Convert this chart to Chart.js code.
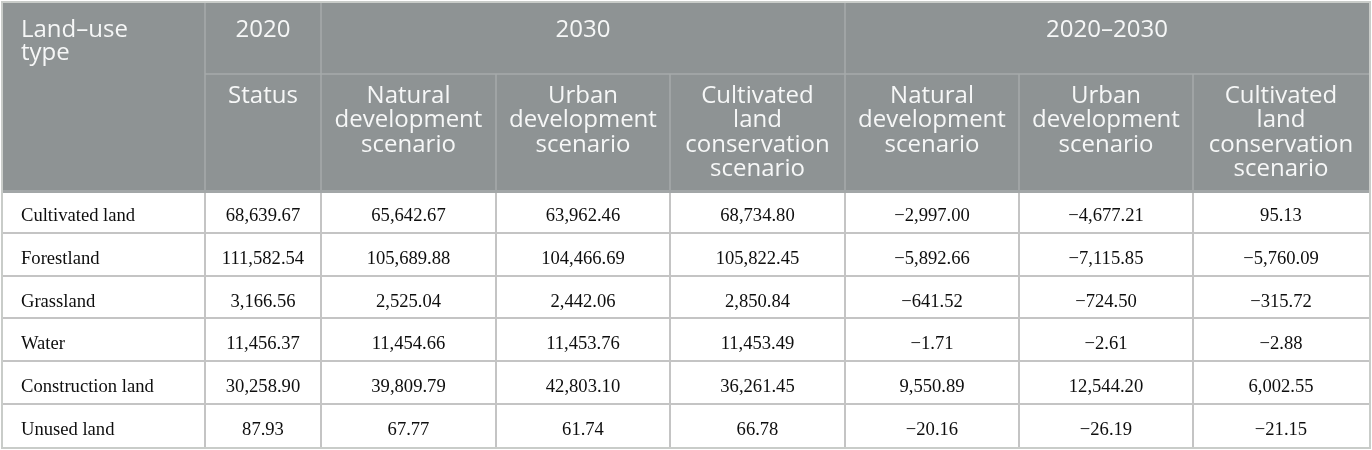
<!DOCTYPE html>
<html>
<head>
<meta charset="utf-8">
<script src="https://cdn.jsdelivr.net/npm/chart.js@4.4.1/dist/chart.umd.min.js"></script>
<style>
  html, body { margin: 0; padding: 0; background: #ffffff; }
  #wrap { width: 1372px; height: 450px; }
</style>
</head>
<body>
<div id="wrap"><canvas id="c" width="1372" height="450"></canvas></div>
<script>
// ---------- DATA ----------
const landTypes = ['Cultivated land', 'Forestland', 'Grassland', 'Water', 'Construction land', 'Unused land'];
const status2020 = [68639.67, 111582.54, 3166.56, 11456.37, 30258.90, 87.93];
const natural2030 = [65642.67, 105689.88, 2525.04, 11454.66, 39809.79, 67.77];
const urban2030 = [63962.46, 104466.69, 2442.06, 11453.76, 42803.10, 61.74];
const conservation2030 = [68734.80, 105822.45, 2850.84, 11453.49, 36261.45, 66.78];
const naturalChange = [-2997.00, -5892.66, -641.52, -1.71, 9550.89, -20.16];
const urbanChange = [-4677.21, -7115.85, -724.50, -2.61, 12544.20, -26.19];
const conservationChange = [95.13, -5760.09, -315.72, -2.88, 6002.55, -21.15];

const firstHeader = ['Land\u2013use', 'type'];
const groupHeaders = ['2020', '2030', '2020\u20132030'];
const groupSpans = [[1, 2], [2, 5], [5, 8]];
const subHeaders = [
  ['Status'],
  ['Natural', 'development', 'scenario'],
  ['Urban', 'development', 'scenario'],
  ['Cultivated', 'land', 'conservation', 'scenario'],
  ['Natural', 'development', 'scenario'],
  ['Urban', 'development', 'scenario'],
  ['Cultivated', 'land', 'conservation', 'scenario']
];
const valueColumns = [status2020, natural2030, urban2030, conservation2030, naturalChange, urbanChange, conservationChange];

// ---------- LAYOUT (styles, not data) ----------
const colEdges = [3, 205, 321, 496, 670, 845, 1019, 1193, 1369];
const headTop = 3, headMid = 74, headBottom = 190;
const rowEdges = [190, 233, 276, 318, 361, 404, 447];

function fmt(v) {
  const s = Math.abs(v).toLocaleString('en-US', { minimumFractionDigits: 2, maximumFractionDigits: 2 });
  return (v < 0 ? '\u2212' : '') + s;
}

const cellPoints = [];
const cellTexts = [];
landTypes.forEach((name, r) => {
  const yBase = rowEdges[r] + 30.5;
  cellPoints.push({ x: colEdges[0] + 18, y: yBase });
  cellTexts.push({ text: name, align: 'left' });
  valueColumns.forEach((col, c) => {
    cellPoints.push({ x: (colEdges[c + 1] + colEdges[c + 2]) / 2, y: yBase });
    cellTexts.push({ text: fmt(col[r]), align: 'center' });
  });
});

const HEAD_BG = '#8e9394';
const HEAD_LINE = '#a6aaab';
const HEAD_TEXT = '#f6f7f7';
const BODY_LINE = '#c4c4c4';
const BODY_TEXT = '#0e0e0e';
const HEAD_FONT = '400 24px "Open Sans"';
const BODY_FONT = '18.6px "Liberation Serif"';

const tablePlugin = {
  id: 'tablePlugin',
  beforeDatasetsDraw(chart) {
    const ctx = chart.ctx;
    const xs = chart.scales.x, ys = chart.scales.y;
    const X = v => xs.getPixelForValue(v);
    const Y = v => ys.getPixelForValue(v);
    const L = X(colEdges[0]), R = X(colEdges[colEdges.length - 1]);
    ctx.save();
    ctx.strokeStyle = '#c9ccc9';
    ctx.lineWidth = 2;
    ctx.strokeRect(L - 1, Y(headTop) - 1, R - L + 2, Y(rowEdges[rowEdges.length - 1]) - Y(headTop) + 2);
    ctx.fillStyle = HEAD_BG;
    ctx.fillRect(L, Y(headTop), R - L, Y(headBottom) - Y(headTop));
    ctx.fillStyle = '#a2a6a7';
    ctx.fillRect(L, Y(headBottom), R - L, 3);
    ctx.strokeStyle = HEAD_LINE;
    ctx.lineWidth = 1.5;
    ctx.beginPath();
    ctx.moveTo(X(colEdges[1]), Y(headMid));
    ctx.lineTo(R, Y(headMid));
    [1, 2, 5].forEach(i => {
      ctx.moveTo(X(colEdges[i]), Y(headTop));
      ctx.lineTo(X(colEdges[i]), Y(headMid));
    });
    for (let i = 1; i < colEdges.length - 1; i++) {
      ctx.moveTo(X(colEdges[i]), Y(headMid));
      ctx.lineTo(X(colEdges[i]), Y(headBottom));
    }
    ctx.stroke();
    ctx.strokeStyle = BODY_LINE;
    ctx.lineWidth = 2;
    ctx.beginPath();
    const bodyTop = Y(headBottom) + 3;
    const bodyBot = Y(rowEdges[rowEdges.length - 1]);
    for (let i = 1; i < colEdges.length - 1; i++) {
      ctx.moveTo(X(colEdges[i]), bodyTop);
      ctx.lineTo(X(colEdges[i]), bodyBot);
    }
    for (let r = 1; r < rowEdges.length - 1; r++) {
      ctx.moveTo(L, Y(rowEdges[r]));
      ctx.lineTo(R, Y(rowEdges[r]));
    }
    ctx.stroke();
    ctx.restore();
  },
  afterDatasetsDraw(chart) {
    const ctx = chart.ctx;
    const xs = chart.scales.x, ys = chart.scales.y;
    const X = v => xs.getPixelForValue(v);
    const Y = v => ys.getPixelForValue(v);
    ctx.save();
    ctx.fillStyle = HEAD_TEXT;
    ctx.font = HEAD_FONT;
    ctx.textBaseline = 'alphabetic';
    ctx.textAlign = 'left';
    firstHeader.forEach((t, i) => ctx.fillText(t, X(colEdges[0] + 18), Y(37 + i * 23)));
    ctx.textAlign = 'center';
    groupHeaders.forEach((t, i) => {
      const [a, b] = groupSpans[i];
      ctx.fillText(t, X((colEdges[a] + colEdges[b]) / 2), Y(37));
    });
    subHeaders.forEach((lines, i) => {
      const cx = X((colEdges[i + 1] + colEdges[i + 2]) / 2);
      lines.forEach((t, j) => ctx.fillText(t, cx, Y(103 + j * 24.4)));
    });
    ctx.fillStyle = BODY_TEXT;
    ctx.font = BODY_FONT;
    const meta = chart.getDatasetMeta(0);
    meta.data.forEach((pt, i) => {
      ctx.textAlign = cellTexts[i].align;
      ctx.fillText(cellTexts[i].text, pt.x, pt.y);
    });
    ctx.restore();
  }
};

function build() {
  new Chart(document.getElementById('c'), {
    type: 'scatter',
    data: {
      datasets: [{
        label: 'cells',
        data: cellPoints,
        pointRadius: 0,
        pointHoverRadius: 0,
        showLine: false
      }]
    },
    options: {
      responsive: false,
      animation: false,
      events: [],
      layout: { padding: 0 },
      plugins: { legend: { display: false }, tooltip: { enabled: false } },
      scales: {
        x: { type: 'linear', min: 0, max: 1372, display: false },
        y: { type: 'linear', min: 0, max: 450, reverse: true, display: false }
      }
    },
    plugins: [tablePlugin]
  });
}

Promise.all([
  document.fonts.load(HEAD_FONT, 'Land'),
  document.fonts.load(BODY_FONT, '0123')
]).then(build, build);
</script>
</body>
</html>
